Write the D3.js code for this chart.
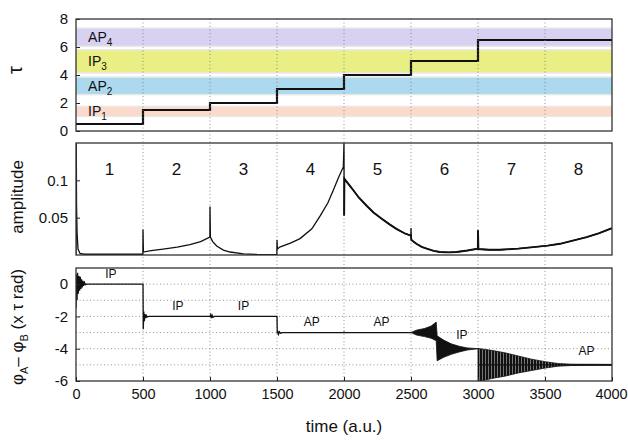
<!DOCTYPE html>
<html>
<head>
<meta charset="utf-8">
<script src="https://cdnjs.cloudflare.com/ajax/libs/d3/7.8.5/d3.min.js"></script>
<style>
  body { margin: 0; background: #fff; }
  svg { font-family: "Liberation Sans", Arial, sans-serif; }
</style>
</head>
<body>
<div id="chart"></div>
<script>
// ---- data ----
var timeTicks = [0, 500, 1000, 1500, 2000, 2500, 3000, 3500, 4000];
var segStarts = [0, 500, 1000, 1500, 2000, 2500, 3000, 3500];
var segNames = ["1", "2", "3", "4", "5", "6", "7", "8"];

// tau step: [time, tau]
var tauSteps = [[0, 0.5], [500, 1.5], [1000, 2], [1500, 3], [2000, 4], [2500, 5], [3000, 6.5], [4000, 6.5]];
var bandNames = ["IP", "AP", "IP", "AP"];
var bandSubs = ["1", "2", "3", "4"];
var bandLo = [1.1, 2.65, 4.2, 6.1];
var bandHi = [1.7, 3.8, 5.75, 7.3];
var tauTicks = [0, 2, 4, 6, 8];

// amplitude: [time, amplitude]
var amplitude = [
  [0, 0.0], [2, 0.15], [4, 0.068], [8, 0.03], [15, 0.008], [30, 0.002], [60, 0.001], [499, 0.001],
  [500, 0.034], [503, 0.004], [560, 0.006], [650, 0.008], [755, 0.0106], [850, 0.014], [930, 0.018], [999, 0.024],
  [1000, 0.065], [1003, 0.024], [1020, 0.018], [1050, 0.012], [1100, 0.0065], [1150, 0.004], [1250, 0.0015], [1350, 0.0007], [1499, 0.0005],
  [1500, 0.02], [1503, 0.008], [1520, 0.0106], [1600, 0.016], [1672, 0.022], [1760, 0.035], [1821, 0.052], [1880, 0.07], [1920, 0.0866], [1960, 0.104], [1995, 0.118],
  [2000, 0.15], [2001, 0.053], [2003, 0.102], [2060, 0.089], [2110, 0.077], [2169, 0.066], [2220, 0.057], [2279, 0.049], [2340, 0.041], [2391, 0.035], [2458, 0.0285], [2499, 0.026],
  [2500, 0.036], [2503, 0.02], [2540, 0.015], [2580, 0.011], [2617, 0.0085], [2670, 0.0055], [2716, 0.004], [2780, 0.0035], [2840, 0.004], [2920, 0.006], [2999, 0.0085],
  [3000, 0.033], [3003, 0.008], [3080, 0.007], [3164, 0.007], [3300, 0.0085], [3413, 0.0106], [3520, 0.0125], [3612, 0.015], [3700, 0.019], [3811, 0.024], [3900, 0.029], [4000, 0.036]
];
var ampTicks = [0.05, 0.1];

// phase difference: [time, phase]
var phase = [
  [0, -1.5], [4, 0.6], [8, -1.0], [12, 0.7], [17, -0.6], [22, 0.5], [27, -0.4], [32, 0.45], [37, -0.3], [42, 0.3], [47, -0.2], [52, 0.2], [57, -0.1], [63, 0.1], [70, -0.03], [80, 0],
  [500, 0], [502, -2.8], [506, -1.7], [510, -2.3], [515, -1.85], [520, -2.1], [525, -1.95], [530, -2.03], [545, -2],
  [1000, -2], [1005, -1.9], [1010, -2.1], [1016, -1.93], [1022, -2.05], [1032, -2],
  [1500, -2], [1502, -3.05], [1506, -2.9], [1511, -3.1], [1518, -2.95], [1526, -3.04], [1540, -3],
  [2000, -3], [2001, -2.94], [2002, -3], [2500, -3]
];
// envelopes of the fast oscillations: [time, upper, lower]
var phaseEnv1 = [
  [2500, -3, -3], [2540, -2.85, -3.15], [2600, -2.75, -3.25], [2650, -2.6, -3.35], [2688, -2.35, -3.5],
  [2695, -3.2, -4.75], [2740, -3.45, -4.55], [2800, -3.7, -4.35], [2860, -3.85, -4.2], [2920, -3.95, -4.08], [3000, -4, -4]
];
var phaseEnv2 = [
  [3000, -3.98, -6.05], [3100, -4.1, -5.85], [3200, -4.25, -5.7], [3300, -4.45, -5.5], [3400, -4.65, -5.35],
  [3500, -4.8, -5.2], [3600, -4.92, -5.08], [3700, -4.96, -5.04], [4000, -4.97, -5.03]
];
var phaseTicks = [0, -2, -4, -6];
var phaseGrid = [0, -1, -2, -3, -4, -5];
var phaseNotes = [[260, 0.4, "IP"], [760, -1.6, "IP"], [1250, -1.6, "IP"], [1760, -2.6, "AP"], [2280, -2.6, "AP"], [2880, -3.4, "IP"], [3810, -4.4, "AP"]];

// ---- layout ----
var W = 628, H = 440;
var L = 76, R = 612;
var bandColors = ["#fcdacb", "#acd9ee", "#e9ef84", "#d9d1f2"];

var svg = d3.select("#chart").append("svg")
  .attr("width", W)
  .attr("height", H);

var x = d3.scaleLinear().domain([0, 4000]).range([L, R]);
var yTau = d3.scaleLinear().domain([0, 8]).range([131, 19]);
var yAmp = d3.scaleLinear().domain([0, 0.15]).range([255, 143]);
var yPh = d3.scaleLinear().domain([-6, 1]).range([381, 268]);

var defs = svg.append("defs");
[["clipTau", yTau], ["clipAmp", yAmp], ["clipPh", yPh]].forEach(function(c) {
  var r = c[1].range();
  defs.append("clipPath").attr("id", c[0]).append("rect")
    .attr("x", L).attr("y", r[1]).attr("width", R - L).attr("height", r[0] - r[1]);
});
var pat = defs.append("pattern").attr("id", "stripes")
  .attr("patternUnits", "userSpaceOnUse").attr("width", 3).attr("height", 10);
pat.append("rect").attr("width", 3).attr("height", 10).attr("fill", "#111");
pat.append("rect").attr("x", 2.3).attr("width", 0.6).attr("height", 10).attr("fill", "#bbb");

// ---- top panel: tau ----
var gTau = svg.append("g").attr("clip-path", "url(#clipTau)");
gTau.selectAll("rect.halo")
  .data(bandLo)
  .enter().append("rect")
  .attr("x", L).attr("width", R - L)
  .attr("y", (d, i) => yTau(bandHi[i]) - 1.5)
  .attr("height", (d, i) => yTau(d) - yTau(bandHi[i]) + 3)
  .attr("fill", "#e8e8e8");
gTau.selectAll("rect.band")
  .data(bandLo)
  .enter().append("rect")
  .attr("x", L).attr("width", R - L)
  .attr("y", (d, i) => yTau(bandHi[i]))
  .attr("height", (d, i) => yTau(d) - yTau(bandHi[i]))
  .attr("fill", (d, i) => bandColors[i]);

var bandText = svg.selectAll("text.bandlab")
  .data(bandLo)
  .enter().append("text")
  .attr("x", x(90))
  .attr("y", (d, i) => yTau((d + bandHi[i]) / 2) + 5)
  .style("font-size", "14px")
  .attr("fill", "#111");
bandText.append("tspan").text((d, i) => bandNames[i]);
bandText.append("tspan").attr("dy", 4).style("font-size", "10px").text((d, i) => bandSubs[i]);

// ---- vertical dotted grid across all panels ----
svg.append("g").selectAll("line")
  .data(timeTicks.slice(1, -1))
  .enter().append("line")
  .attr("x1", d => x(d)).attr("x2", d => x(d))
  .attr("y1", 19).attr("y2", 381)
  .attr("stroke", "#777")
  .attr("stroke-width", 0.8)
  .attr("stroke-dasharray", "1,2.5");

gTau.append("path")
  .datum(tauSteps)
  .attr("fill", "none")
  .attr("stroke", "#111")
  .attr("stroke-width", 2.2)
  .attr("d", d3.line().x(d => x(d[0])).y(d => yTau(d[1])).curve(d3.curveStepAfter));

// ---- middle panel: amplitude ----
var gAmp = svg.append("g").attr("clip-path", "url(#clipAmp)");
gAmp.append("path")
  .datum(amplitude)
  .attr("fill", "none")
  .attr("stroke", "#111")
  .attr("stroke-width", 1.3)
  .attr("d", d3.line().x(d => x(d[0])).y(d => yAmp(d[1])));
// thicker noisy stretches
gAmp.append("path")
  .datum(amplitude.filter(d => (d[0] > 2000 && d[0] < 2500) || d[0] > 2502))
  .attr("fill", "none")
  .attr("stroke", "#111")
  .attr("stroke-width", 1.9)
  .attr("d", d3.line().x(d => x(d[0])).y(d => yAmp(d[1])));

svg.selectAll("text.seg")
  .data(segStarts)
  .enter().append("text")
  .attr("x", d => x(d + 250))
  .attr("y", yAmp(0.107))
  .attr("text-anchor", "middle")
  .style("font-size", "17px")
  .attr("fill", "#111")
  .text((d, i) => segNames[i]);

// ---- bottom panel: phase difference ----
var gPh = svg.append("g").attr("clip-path", "url(#clipPh)");
gPh.selectAll("line.hgrid")
  .data(phaseGrid)
  .enter().append("line")
  .attr("x1", L).attr("x2", R)
  .attr("y1", d => yPh(d)).attr("y2", d => yPh(d))
  .attr("stroke", "#777")
  .attr("stroke-width", 0.8)
  .attr("stroke-dasharray", "1,2.5");

gPh.append("path")
  .datum(phase)
  .attr("fill", "none")
  .attr("stroke", "#111")
  .attr("stroke-width", 1.3)
  .attr("d", d3.line().x(d => x(d[0])).y(d => yPh(d[1])));

var envArea = d3.area().x(d => x(d[0])).y0(d => yPh(d[2])).y1(d => yPh(d[1]));
gPh.append("path")
  .datum(phaseEnv1)
  .attr("fill", "#111")
  .attr("stroke", "#111")
  .attr("stroke-width", 0.8)
  .attr("d", envArea);
gPh.append("path")
  .datum(phaseEnv2)
  .attr("fill", "url(#stripes)")
  .attr("stroke", "#111")
  .attr("stroke-width", 0.8)
  .attr("d", envArea);
gPh.append("line")
  .attr("x1", x(3000)).attr("x2", x(4000))
  .attr("y1", yPh(-5)).attr("y2", yPh(-5))
  .attr("stroke", "#111").attr("stroke-width", 1.3);

svg.selectAll("text.note")
  .data(phaseNotes)
  .enter().append("text")
  .attr("x", d => x(d[0]))
  .attr("y", d => yPh(d[1]))
  .attr("text-anchor", "middle")
  .style("font-size", "12px")
  .attr("fill", "#111")
  .text(d => d[2]);

// ---- axes and frames ----
function leftAxis(scale, ticks, fmt) {
  var g = svg.append("g")
    .attr("transform", "translate(" + L + ",0)")
    .call(d3.axisLeft(scale).tickValues(ticks).tickSize(-4).tickPadding(8).tickFormat(fmt));
  g.select(".domain").remove();
  g.selectAll("text").style("font-size", "15px").attr("fill", "#111").attr("font-family", null);
  g.selectAll("line").attr("stroke", "#222");
  return g;
}
leftAxis(yTau, tauTicks, d3.format("d"));
leftAxis(yAmp, ampTicks, d => String(d));
leftAxis(yPh, phaseTicks, d => d < 0 ? "-" + Math.abs(d) : String(d));

[yTau, yAmp, yPh].forEach(function(s) {
  var r = s.range();
  svg.append("rect")
    .attr("x", L).attr("y", r[1])
    .attr("width", R - L).attr("height", r[0] - r[1])
    .attr("fill", "none")
    .attr("stroke", "#333")
    .attr("stroke-width", 1.3);
});

var xg = svg.append("g")
  .attr("transform", "translate(0," + yPh.range()[0] + ")")
  .call(d3.axisBottom(x).tickValues(timeTicks).tickSize(-4).tickPadding(8).tickFormat(d3.format("d")));
xg.select(".domain").remove();
xg.selectAll("text").style("font-size", "14.5px").attr("fill", "#111").attr("font-family", null);
xg.selectAll("line").attr("stroke", "#222");
xg.selectAll(".tick:last-of-type text").attr("dx", -1);

// axis titles
svg.append("text")
  .attr("transform", "translate(" + 22 + "," + 70 + ") rotate(-90)")
  .attr("text-anchor", "middle")
  .style("font-size", "20px")
  .attr("fill", "#111")
  .text("τ");
svg.append("text")
  .attr("transform", "translate(" + 23 + "," + 197 + ") rotate(-90)")
  .attr("text-anchor", "middle")
  .style("font-size", "17px")
  .attr("fill", "#111")
  .text("amplitude");
var phLab = svg.append("text")
  .attr("transform", "translate(" + 23 + "," + 327 + ") rotate(-90)")
  .attr("text-anchor", "middle")
  .style("font-size", "17px")
  .attr("fill", "#111");
phLab.append("tspan").text("φ");
phLab.append("tspan").attr("dy", 5).style("font-size", "11px").text("A");
phLab.append("tspan").attr("dy", -5).text("– φ");
phLab.append("tspan").attr("dy", 5).style("font-size", "11px").text("B");
phLab.append("tspan").attr("dy", -5).text(" (x τ rad)");

svg.append("text")
  .attr("x", x(2000))
  .attr("y", 432)
  .attr("text-anchor", "middle")
  .style("font-size", "17px")
  .attr("fill", "#111")
  .text("time (a.u.)");
</script>
</body>
</html>
